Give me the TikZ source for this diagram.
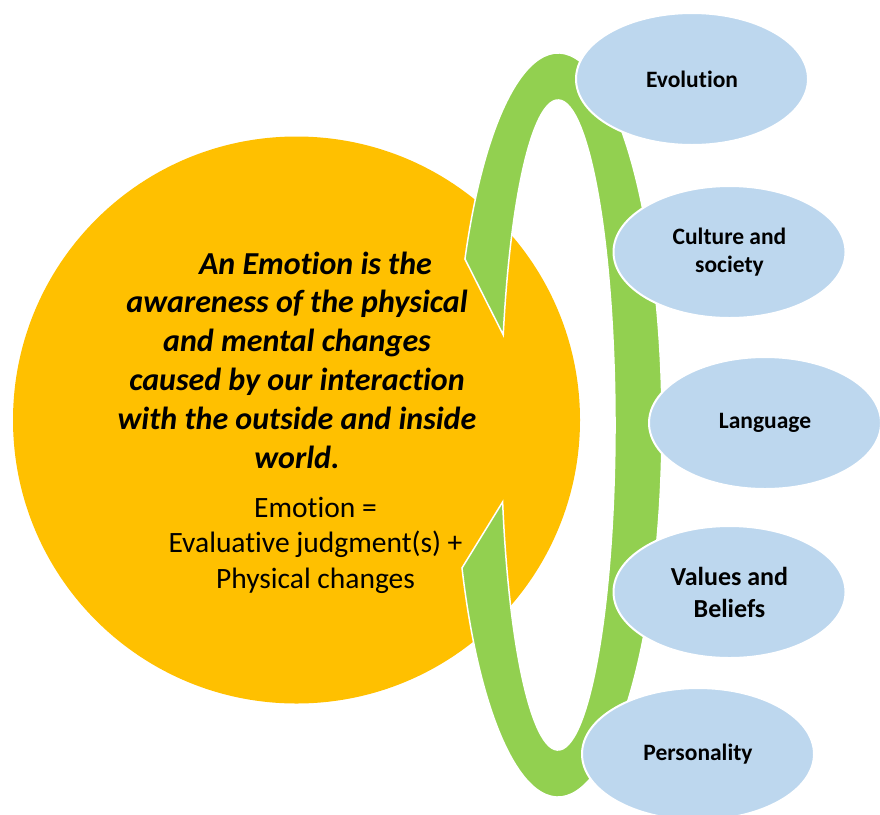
\documentclass[tikz,border=0pt]{standalone}
\usepackage{fontspec}
\setmainfont{Carlito}[Ligatures=NoCommon]
\usetikzlibrary{shapes.geometric,calc}

\definecolor{sunorange}{HTML}{FFC000}
\definecolor{leafgreen}{HTML}{92D050}
\definecolor{paleblue}{HTML}{BDD7EE}

\tikzset{
  bubble/.style={ellipse, fill=paleblue, draw=white, line width=2pt,
    minimum width=232pt, minimum height=132pt, inner sep=0pt,
    align=center, font=\fontsize{23.5}{28.7}\selectfont\bfseries},
  bigbubble/.style={bubble, font=\fontsize{26}{32}\selectfont\bfseries},
  core/.style={circle, fill=sunorange, minimum size=567pt, inner sep=0pt},
  definition/.style={align=center, inner sep=0pt, anchor=base,
    font=\fontsize{32}{38.8}\selectfont\bfseries\itshape},
  formula/.style={align=center, inner sep=0pt, anchor=base,
    font=\fontsize{29.5}{35.5}\selectfont},
  loopband/.style={fill=leafgreen, draw=white, line width=1.5pt, line join=miter}
}

\begin{document}
\begin{tikzpicture}[x=1pt, y=-1pt]
  \useasboundingbox (0,0) rectangle (880,814);
  \fill[white] (0,0) rectangle (880,814);

  % central circle
  \node[core] (emotion) at (296.5,420) {};

  % the green loop: two half-headed arrows joined round the right side
  \coordinate (ring) at (558,425);
  \fill[loopband]
    ($(ring)+(153.5:104pt and 372pt)$)
      arc[start angle=153.5, end angle=-157.4, x radius=104pt, y radius=372pt]
    -- ($(ring)+(-166.3:57pt and 325pt)$)
      arc[start angle=-166.3, end angle=163.9, x radius=57pt, y radius=325pt]
    -- cycle;

  % influences
  \node[bubble] (evo) at (692,79) {Evolution};
  \node[bubble] (cult) at (729.5,252) {Culture and\\society};
  \node[bubble] (lang) at (765,423) {Language};
  \node[bigbubble] (vals) at (729.5,592) {Values and\\Beliefs};
  \node[bubble] (pers) at (698,754) {Personality};

  % texts inside the circle (base anchor sits on the last line)
  \node[definition] (def) at (297,468)
    {\hspace*{37pt}An Emotion is the\\
     awareness of the physical\\
     and mental changes\\
     caused by our interaction\\
     with the outside and inside\\
     world.};
  \node[formula] (eq) at (315.5,588)
    {Emotion =\\
     Evaluative judgment(s) +\\
     Physical changes};
\end{tikzpicture}
\end{document}
